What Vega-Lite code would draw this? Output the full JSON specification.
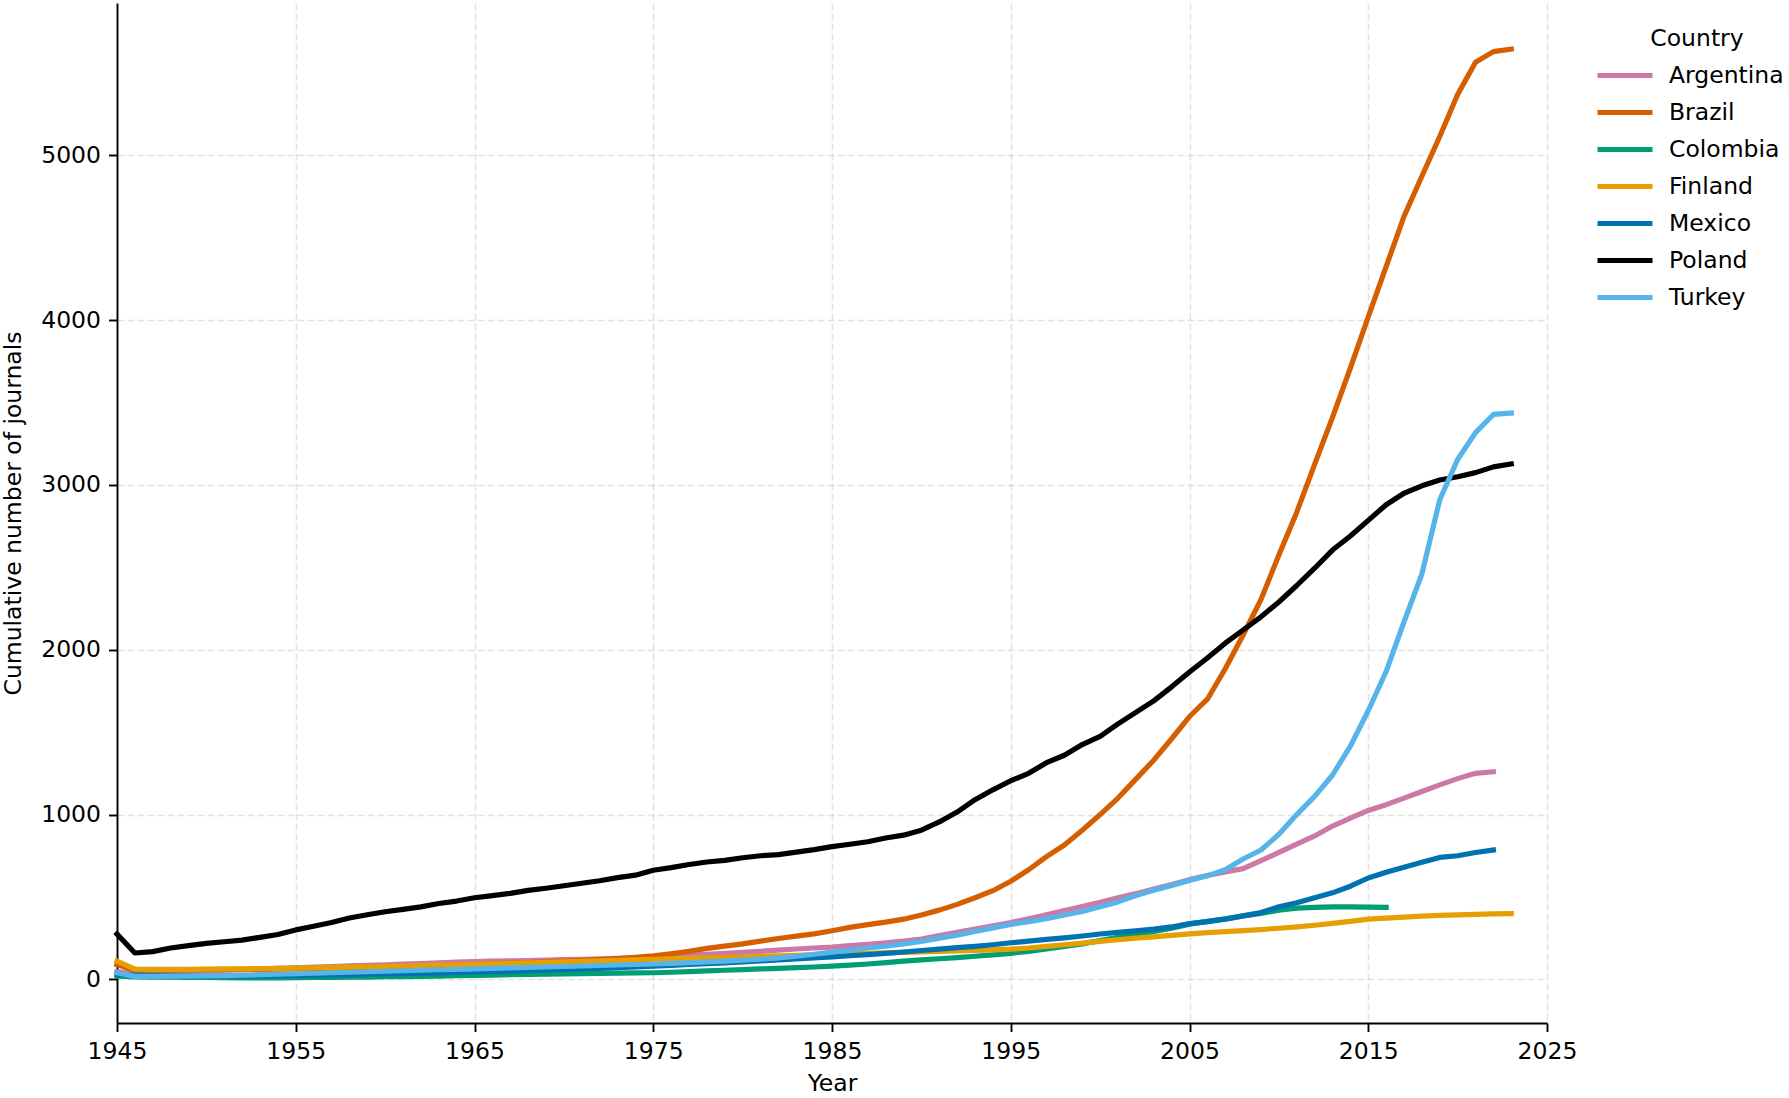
{
  "$schema": "https://vega.github.io/schema/vega-lite/v6.json",
  "width": 1430,
  "height": 1020,
  "autosize": {"type": "none"},
  "padding": {"left": 117, "top": 3, "right": 242, "bottom": 75},
  "background": "white",
  "config": {
    "view": {"stroke": null},
    "font": "DejaVu Sans",
    "axis": {
      "labelFont": "DejaVu Sans",
      "labelFontSize": 23.5,
      "labelColor": "black",
      "labelPadding": 8,
      "labelFlush": false,
      "titleFont": "DejaVu Sans",
      "titleFontSize": 23.5,
      "titleFontWeight": "normal",
      "titleColor": "black",
      "domainColor": "black",
      "domainWidth": 1.9,
      "tickColor": "black",
      "tickWidth": 1.9,
      "tickSize": 8.5,
      "grid": true,
      "gridColor": "#b0b0b0",
      "gridOpacity": 0.35,
      "gridWidth": 1.6,
      "gridDash": [7, 3]
    },
    "legend": {
      "labelFont": "DejaVu Sans",
      "labelFontSize": 23.5,
      "labelColor": "black",
      "titleFont": "DejaVu Sans",
      "titleFontSize": 23.5,
      "titleFontWeight": "normal",
      "titleColor": "black"
    }
  },
  "data": {
    "values": [
      {"Country":"Argentina","Year":1945,"Journals":45},{"Country":"Argentina","Year":1946,"Journals":40},{"Country":"Argentina","Year":1947,"Journals":42},{"Country":"Argentina","Year":1948,"Journals":45},{"Country":"Argentina","Year":1949,"Journals":48},
      {"Country":"Argentina","Year":1950,"Journals":52},{"Country":"Argentina","Year":1951,"Journals":55},{"Country":"Argentina","Year":1952,"Journals":58},{"Country":"Argentina","Year":1953,"Journals":62},{"Country":"Argentina","Year":1954,"Journals":66},
      {"Country":"Argentina","Year":1955,"Journals":70},{"Country":"Argentina","Year":1956,"Journals":74},{"Country":"Argentina","Year":1957,"Journals":78},{"Country":"Argentina","Year":1958,"Journals":82},{"Country":"Argentina","Year":1959,"Journals":85},
      {"Country":"Argentina","Year":1960,"Journals":88},{"Country":"Argentina","Year":1961,"Journals":92},{"Country":"Argentina","Year":1962,"Journals":96},{"Country":"Argentina","Year":1963,"Journals":100},{"Country":"Argentina","Year":1964,"Journals":104},
      {"Country":"Argentina","Year":1965,"Journals":108},{"Country":"Argentina","Year":1966,"Journals":110},{"Country":"Argentina","Year":1967,"Journals":112},{"Country":"Argentina","Year":1968,"Journals":114},{"Country":"Argentina","Year":1969,"Journals":117},
      {"Country":"Argentina","Year":1970,"Journals":120},{"Country":"Argentina","Year":1971,"Journals":122},{"Country":"Argentina","Year":1972,"Journals":125},{"Country":"Argentina","Year":1973,"Journals":128},{"Country":"Argentina","Year":1974,"Journals":131},
      {"Country":"Argentina","Year":1975,"Journals":134},{"Country":"Argentina","Year":1976,"Journals":140},{"Country":"Argentina","Year":1977,"Journals":146},{"Country":"Argentina","Year":1978,"Journals":152},{"Country":"Argentina","Year":1979,"Journals":158},
      {"Country":"Argentina","Year":1980,"Journals":164},{"Country":"Argentina","Year":1981,"Journals":170},{"Country":"Argentina","Year":1982,"Journals":177},{"Country":"Argentina","Year":1983,"Journals":184},{"Country":"Argentina","Year":1984,"Journals":190},
      {"Country":"Argentina","Year":1985,"Journals":196},{"Country":"Argentina","Year":1986,"Journals":205},{"Country":"Argentina","Year":1987,"Journals":213},{"Country":"Argentina","Year":1988,"Journals":222},{"Country":"Argentina","Year":1989,"Journals":232},
      {"Country":"Argentina","Year":1990,"Journals":245},{"Country":"Argentina","Year":1991,"Journals":265},{"Country":"Argentina","Year":1992,"Journals":285},{"Country":"Argentina","Year":1993,"Journals":305},{"Country":"Argentina","Year":1994,"Journals":325},
      {"Country":"Argentina","Year":1995,"Journals":345},{"Country":"Argentina","Year":1996,"Journals":368},{"Country":"Argentina","Year":1997,"Journals":392},{"Country":"Argentina","Year":1998,"Journals":418},{"Country":"Argentina","Year":1999,"Journals":442},
      {"Country":"Argentina","Year":2000,"Journals":468},{"Country":"Argentina","Year":2001,"Journals":495},{"Country":"Argentina","Year":2002,"Journals":520},{"Country":"Argentina","Year":2003,"Journals":548},{"Country":"Argentina","Year":2004,"Journals":575},
      {"Country":"Argentina","Year":2005,"Journals":605},{"Country":"Argentina","Year":2006,"Journals":630},{"Country":"Argentina","Year":2007,"Journals":652},{"Country":"Argentina","Year":2008,"Journals":672},{"Country":"Argentina","Year":2009,"Journals":720},
      {"Country":"Argentina","Year":2010,"Journals":770},{"Country":"Argentina","Year":2011,"Journals":820},{"Country":"Argentina","Year":2012,"Journals":870},{"Country":"Argentina","Year":2013,"Journals":930},{"Country":"Argentina","Year":2014,"Journals":978},
      {"Country":"Argentina","Year":2015,"Journals":1025},{"Country":"Argentina","Year":2016,"Journals":1060},{"Country":"Argentina","Year":2017,"Journals":1100},{"Country":"Argentina","Year":2018,"Journals":1140},{"Country":"Argentina","Year":2019,"Journals":1180},
      {"Country":"Argentina","Year":2020,"Journals":1218},{"Country":"Argentina","Year":2021,"Journals":1250},{"Country":"Argentina","Year":2022,"Journals":1260},

      {"Country":"Brazil","Year":1945,"Journals":90},{"Country":"Brazil","Year":1946,"Journals":55},{"Country":"Brazil","Year":1947,"Journals":55},{"Country":"Brazil","Year":1948,"Journals":56},{"Country":"Brazil","Year":1949,"Journals":57},
      {"Country":"Brazil","Year":1950,"Journals":58},{"Country":"Brazil","Year":1951,"Journals":59},{"Country":"Brazil","Year":1952,"Journals":60},{"Country":"Brazil","Year":1953,"Journals":61},{"Country":"Brazil","Year":1954,"Journals":62},
      {"Country":"Brazil","Year":1955,"Journals":64},{"Country":"Brazil","Year":1956,"Journals":66},{"Country":"Brazil","Year":1957,"Journals":68},{"Country":"Brazil","Year":1958,"Journals":70},{"Country":"Brazil","Year":1959,"Journals":72},
      {"Country":"Brazil","Year":1960,"Journals":75},{"Country":"Brazil","Year":1961,"Journals":78},{"Country":"Brazil","Year":1962,"Journals":81},{"Country":"Brazil","Year":1963,"Journals":84},{"Country":"Brazil","Year":1964,"Journals":87},
      {"Country":"Brazil","Year":1965,"Journals":90},{"Country":"Brazil","Year":1966,"Journals":94},{"Country":"Brazil","Year":1967,"Journals":98},{"Country":"Brazil","Year":1968,"Journals":102},{"Country":"Brazil","Year":1969,"Journals":106},
      {"Country":"Brazil","Year":1970,"Journals":110},{"Country":"Brazil","Year":1971,"Journals":115},{"Country":"Brazil","Year":1972,"Journals":120},{"Country":"Brazil","Year":1973,"Journals":126},{"Country":"Brazil","Year":1974,"Journals":133},
      {"Country":"Brazil","Year":1975,"Journals":142},{"Country":"Brazil","Year":1976,"Journals":155},{"Country":"Brazil","Year":1977,"Journals":170},{"Country":"Brazil","Year":1978,"Journals":188},{"Country":"Brazil","Year":1979,"Journals":202},
      {"Country":"Brazil","Year":1980,"Journals":215},{"Country":"Brazil","Year":1981,"Journals":232},{"Country":"Brazil","Year":1982,"Journals":248},{"Country":"Brazil","Year":1983,"Journals":262},{"Country":"Brazil","Year":1984,"Journals":276},
      {"Country":"Brazil","Year":1985,"Journals":295},{"Country":"Brazil","Year":1986,"Journals":315},{"Country":"Brazil","Year":1987,"Journals":332},{"Country":"Brazil","Year":1988,"Journals":347},{"Country":"Brazil","Year":1989,"Journals":365},
      {"Country":"Brazil","Year":1990,"Journals":390},{"Country":"Brazil","Year":1991,"Journals":420},{"Country":"Brazil","Year":1992,"Journals":455},{"Country":"Brazil","Year":1993,"Journals":495},{"Country":"Brazil","Year":1994,"Journals":538},
      {"Country":"Brazil","Year":1995,"Journals":595},{"Country":"Brazil","Year":1996,"Journals":665},{"Country":"Brazil","Year":1997,"Journals":745},{"Country":"Brazil","Year":1998,"Journals":815},{"Country":"Brazil","Year":1999,"Journals":905},
      {"Country":"Brazil","Year":2000,"Journals":1000},{"Country":"Brazil","Year":2001,"Journals":1100},{"Country":"Brazil","Year":2002,"Journals":1215},{"Country":"Brazil","Year":2003,"Journals":1330},{"Country":"Brazil","Year":2004,"Journals":1460},
      {"Country":"Brazil","Year":2005,"Journals":1595},{"Country":"Brazil","Year":2006,"Journals":1700},{"Country":"Brazil","Year":2007,"Journals":1885},{"Country":"Brazil","Year":2008,"Journals":2090},{"Country":"Brazil","Year":2009,"Journals":2305},
      {"Country":"Brazil","Year":2010,"Journals":2575},{"Country":"Brazil","Year":2011,"Journals":2835},{"Country":"Brazil","Year":2012,"Journals":3125},{"Country":"Brazil","Year":2013,"Journals":3410},{"Country":"Brazil","Year":2014,"Journals":3710},
      {"Country":"Brazil","Year":2015,"Journals":4020},{"Country":"Brazil","Year":2016,"Journals":4325},{"Country":"Brazil","Year":2017,"Journals":4630},{"Country":"Brazil","Year":2018,"Journals":4874},{"Country":"Brazil","Year":2019,"Journals":5115},
      {"Country":"Brazil","Year":2020,"Journals":5370},{"Country":"Brazil","Year":2021,"Journals":5565},{"Country":"Brazil","Year":2022,"Journals":5630},{"Country":"Brazil","Year":2023,"Journals":5645},

      {"Country":"Colombia","Year":1945,"Journals":20},{"Country":"Colombia","Year":1946,"Journals":15},{"Country":"Colombia","Year":1947,"Journals":14},{"Country":"Colombia","Year":1948,"Journals":13},{"Country":"Colombia","Year":1949,"Journals":12},
      {"Country":"Colombia","Year":1950,"Journals":11},{"Country":"Colombia","Year":1951,"Journals":10},{"Country":"Colombia","Year":1952,"Journals":9},{"Country":"Colombia","Year":1953,"Journals":9},{"Country":"Colombia","Year":1954,"Journals":9},
      {"Country":"Colombia","Year":1955,"Journals":10},{"Country":"Colombia","Year":1956,"Journals":11},{"Country":"Colombia","Year":1957,"Journals":12},{"Country":"Colombia","Year":1958,"Journals":13},{"Country":"Colombia","Year":1959,"Journals":14},
      {"Country":"Colombia","Year":1960,"Journals":16},{"Country":"Colombia","Year":1961,"Journals":17},{"Country":"Colombia","Year":1962,"Journals":18},{"Country":"Colombia","Year":1963,"Journals":20},{"Country":"Colombia","Year":1964,"Journals":22},
      {"Country":"Colombia","Year":1965,"Journals":24},{"Country":"Colombia","Year":1966,"Journals":26},{"Country":"Colombia","Year":1967,"Journals":28},{"Country":"Colombia","Year":1968,"Journals":30},{"Country":"Colombia","Year":1969,"Journals":31},
      {"Country":"Colombia","Year":1970,"Journals":33},{"Country":"Colombia","Year":1971,"Journals":35},{"Country":"Colombia","Year":1972,"Journals":36},{"Country":"Colombia","Year":1973,"Journals":38},{"Country":"Colombia","Year":1974,"Journals":39},
      {"Country":"Colombia","Year":1975,"Journals":40},{"Country":"Colombia","Year":1976,"Journals":43},{"Country":"Colombia","Year":1977,"Journals":47},{"Country":"Colombia","Year":1978,"Journals":51},{"Country":"Colombia","Year":1979,"Journals":55},
      {"Country":"Colombia","Year":1980,"Journals":59},{"Country":"Colombia","Year":1981,"Journals":63},{"Country":"Colombia","Year":1982,"Journals":67},{"Country":"Colombia","Year":1983,"Journals":71},{"Country":"Colombia","Year":1984,"Journals":75},
      {"Country":"Colombia","Year":1985,"Journals":80},{"Country":"Colombia","Year":1986,"Journals":86},{"Country":"Colombia","Year":1987,"Journals":93},{"Country":"Colombia","Year":1988,"Journals":101},{"Country":"Colombia","Year":1989,"Journals":110},
      {"Country":"Colombia","Year":1990,"Journals":118},{"Country":"Colombia","Year":1991,"Journals":125},{"Country":"Colombia","Year":1992,"Journals":132},{"Country":"Colombia","Year":1993,"Journals":140},{"Country":"Colombia","Year":1994,"Journals":148},
      {"Country":"Colombia","Year":1995,"Journals":158},{"Country":"Colombia","Year":1996,"Journals":170},{"Country":"Colombia","Year":1997,"Journals":185},{"Country":"Colombia","Year":1998,"Journals":200},{"Country":"Colombia","Year":1999,"Journals":215},
      {"Country":"Colombia","Year":2000,"Journals":235},{"Country":"Colombia","Year":2001,"Journals":255},{"Country":"Colombia","Year":2002,"Journals":270},{"Country":"Colombia","Year":2003,"Journals":290},{"Country":"Colombia","Year":2004,"Journals":310},
      {"Country":"Colombia","Year":2005,"Journals":335},{"Country":"Colombia","Year":2006,"Journals":352},{"Country":"Colombia","Year":2007,"Journals":367},{"Country":"Colombia","Year":2008,"Journals":385},{"Country":"Colombia","Year":2009,"Journals":400},
      {"Country":"Colombia","Year":2010,"Journals":420},{"Country":"Colombia","Year":2011,"Journals":432},{"Country":"Colombia","Year":2012,"Journals":437},{"Country":"Colombia","Year":2013,"Journals":440},{"Country":"Colombia","Year":2014,"Journals":440},
      {"Country":"Colombia","Year":2015,"Journals":438},{"Country":"Colombia","Year":2016,"Journals":437},

      {"Country":"Finland","Year":1945,"Journals":110},{"Country":"Finland","Year":1946,"Journals":62},{"Country":"Finland","Year":1947,"Journals":60},{"Country":"Finland","Year":1948,"Journals":60},{"Country":"Finland","Year":1949,"Journals":61},
      {"Country":"Finland","Year":1950,"Journals":62},{"Country":"Finland","Year":1951,"Journals":63},{"Country":"Finland","Year":1952,"Journals":64},{"Country":"Finland","Year":1953,"Journals":65},{"Country":"Finland","Year":1954,"Journals":66},
      {"Country":"Finland","Year":1955,"Journals":68},{"Country":"Finland","Year":1956,"Journals":70},{"Country":"Finland","Year":1957,"Journals":72},{"Country":"Finland","Year":1958,"Journals":74},{"Country":"Finland","Year":1959,"Journals":76},
      {"Country":"Finland","Year":1960,"Journals":78},{"Country":"Finland","Year":1961,"Journals":80},{"Country":"Finland","Year":1962,"Journals":83},{"Country":"Finland","Year":1963,"Journals":86},{"Country":"Finland","Year":1964,"Journals":88},
      {"Country":"Finland","Year":1965,"Journals":91},{"Country":"Finland","Year":1966,"Journals":94},{"Country":"Finland","Year":1967,"Journals":97},{"Country":"Finland","Year":1968,"Journals":100},{"Country":"Finland","Year":1969,"Journals":103},
      {"Country":"Finland","Year":1970,"Journals":106},{"Country":"Finland","Year":1971,"Journals":109},{"Country":"Finland","Year":1972,"Journals":112},{"Country":"Finland","Year":1973,"Journals":115},{"Country":"Finland","Year":1974,"Journals":118},
      {"Country":"Finland","Year":1975,"Journals":122},{"Country":"Finland","Year":1976,"Journals":125},{"Country":"Finland","Year":1977,"Journals":128},{"Country":"Finland","Year":1978,"Journals":131},{"Country":"Finland","Year":1979,"Journals":134},
      {"Country":"Finland","Year":1980,"Journals":137},{"Country":"Finland","Year":1981,"Journals":140},{"Country":"Finland","Year":1982,"Journals":143},{"Country":"Finland","Year":1983,"Journals":146},{"Country":"Finland","Year":1984,"Journals":149},
      {"Country":"Finland","Year":1985,"Journals":152},{"Country":"Finland","Year":1986,"Journals":155},{"Country":"Finland","Year":1987,"Journals":158},{"Country":"Finland","Year":1988,"Journals":161},{"Country":"Finland","Year":1989,"Journals":164},
      {"Country":"Finland","Year":1990,"Journals":167},{"Country":"Finland","Year":1991,"Journals":170},{"Country":"Finland","Year":1992,"Journals":173},{"Country":"Finland","Year":1993,"Journals":176},{"Country":"Finland","Year":1994,"Journals":179},
      {"Country":"Finland","Year":1995,"Journals":183},{"Country":"Finland","Year":1996,"Journals":190},{"Country":"Finland","Year":1997,"Journals":200},{"Country":"Finland","Year":1998,"Journals":210},{"Country":"Finland","Year":1999,"Journals":220},
      {"Country":"Finland","Year":2000,"Journals":230},{"Country":"Finland","Year":2001,"Journals":240},{"Country":"Finland","Year":2002,"Journals":250},{"Country":"Finland","Year":2003,"Journals":258},{"Country":"Finland","Year":2004,"Journals":267},
      {"Country":"Finland","Year":2005,"Journals":276},{"Country":"Finland","Year":2006,"Journals":283},{"Country":"Finland","Year":2007,"Journals":290},{"Country":"Finland","Year":2008,"Journals":296},{"Country":"Finland","Year":2009,"Journals":302},
      {"Country":"Finland","Year":2010,"Journals":310},{"Country":"Finland","Year":2011,"Journals":318},{"Country":"Finland","Year":2012,"Journals":328},{"Country":"Finland","Year":2013,"Journals":340},{"Country":"Finland","Year":2014,"Journals":352},
      {"Country":"Finland","Year":2015,"Journals":365},{"Country":"Finland","Year":2016,"Journals":372},{"Country":"Finland","Year":2017,"Journals":378},{"Country":"Finland","Year":2018,"Journals":384},{"Country":"Finland","Year":2019,"Journals":388},
      {"Country":"Finland","Year":2020,"Journals":391},{"Country":"Finland","Year":2021,"Journals":394},{"Country":"Finland","Year":2022,"Journals":397},{"Country":"Finland","Year":2023,"Journals":399},

      {"Country":"Mexico","Year":1945,"Journals":30},{"Country":"Mexico","Year":1946,"Journals":25},{"Country":"Mexico","Year":1947,"Journals":22},{"Country":"Mexico","Year":1948,"Journals":21},{"Country":"Mexico","Year":1949,"Journals":20},
      {"Country":"Mexico","Year":1950,"Journals":20},{"Country":"Mexico","Year":1951,"Journals":20},{"Country":"Mexico","Year":1952,"Journals":20},{"Country":"Mexico","Year":1953,"Journals":21},{"Country":"Mexico","Year":1954,"Journals":22},
      {"Country":"Mexico","Year":1955,"Journals":23},{"Country":"Mexico","Year":1956,"Journals":25},{"Country":"Mexico","Year":1957,"Journals":27},{"Country":"Mexico","Year":1958,"Journals":29},{"Country":"Mexico","Year":1959,"Journals":31},
      {"Country":"Mexico","Year":1960,"Journals":33},{"Country":"Mexico","Year":1961,"Journals":35},{"Country":"Mexico","Year":1962,"Journals":37},{"Country":"Mexico","Year":1963,"Journals":39},{"Country":"Mexico","Year":1964,"Journals":41},
      {"Country":"Mexico","Year":1965,"Journals":44},{"Country":"Mexico","Year":1966,"Journals":47},{"Country":"Mexico","Year":1967,"Journals":50},{"Country":"Mexico","Year":1968,"Journals":53},{"Country":"Mexico","Year":1969,"Journals":56},
      {"Country":"Mexico","Year":1970,"Journals":60},{"Country":"Mexico","Year":1971,"Journals":63},{"Country":"Mexico","Year":1972,"Journals":67},{"Country":"Mexico","Year":1973,"Journals":71},{"Country":"Mexico","Year":1974,"Journals":75},
      {"Country":"Mexico","Year":1975,"Journals":80},{"Country":"Mexico","Year":1976,"Journals":85},{"Country":"Mexico","Year":1977,"Journals":90},{"Country":"Mexico","Year":1978,"Journals":95},{"Country":"Mexico","Year":1979,"Journals":100},
      {"Country":"Mexico","Year":1980,"Journals":106},{"Country":"Mexico","Year":1981,"Journals":112},{"Country":"Mexico","Year":1982,"Journals":118},{"Country":"Mexico","Year":1983,"Journals":124},{"Country":"Mexico","Year":1984,"Journals":130},
      {"Country":"Mexico","Year":1985,"Journals":136},{"Country":"Mexico","Year":1986,"Journals":143},{"Country":"Mexico","Year":1987,"Journals":150},{"Country":"Mexico","Year":1988,"Journals":158},{"Country":"Mexico","Year":1989,"Journals":166},
      {"Country":"Mexico","Year":1990,"Journals":175},{"Country":"Mexico","Year":1991,"Journals":183},{"Country":"Mexico","Year":1992,"Journals":192},{"Country":"Mexico","Year":1993,"Journals":200},{"Country":"Mexico","Year":1994,"Journals":210},
      {"Country":"Mexico","Year":1995,"Journals":222},{"Country":"Mexico","Year":1996,"Journals":232},{"Country":"Mexico","Year":1997,"Journals":242},{"Country":"Mexico","Year":1998,"Journals":252},{"Country":"Mexico","Year":1999,"Journals":263},
      {"Country":"Mexico","Year":2000,"Journals":275},{"Country":"Mexico","Year":2001,"Journals":285},{"Country":"Mexico","Year":2002,"Journals":295},{"Country":"Mexico","Year":2003,"Journals":305},{"Country":"Mexico","Year":2004,"Journals":318},
      {"Country":"Mexico","Year":2005,"Journals":338},{"Country":"Mexico","Year":2006,"Journals":350},{"Country":"Mexico","Year":2007,"Journals":365},{"Country":"Mexico","Year":2008,"Journals":385},{"Country":"Mexico","Year":2009,"Journals":405},
      {"Country":"Mexico","Year":2010,"Journals":440},{"Country":"Mexico","Year":2011,"Journals":465},{"Country":"Mexico","Year":2012,"Journals":495},{"Country":"Mexico","Year":2013,"Journals":525},{"Country":"Mexico","Year":2014,"Journals":565},
      {"Country":"Mexico","Year":2015,"Journals":615},{"Country":"Mexico","Year":2016,"Journals":650},{"Country":"Mexico","Year":2017,"Journals":680},{"Country":"Mexico","Year":2018,"Journals":710},{"Country":"Mexico","Year":2019,"Journals":740},
      {"Country":"Mexico","Year":2020,"Journals":750},{"Country":"Mexico","Year":2021,"Journals":770},{"Country":"Mexico","Year":2022,"Journals":785},

      {"Country":"Poland","Year":1945,"Journals":275},{"Country":"Poland","Year":1946,"Journals":160},{"Country":"Poland","Year":1947,"Journals":168},{"Country":"Poland","Year":1948,"Journals":190},{"Country":"Poland","Year":1949,"Journals":205},
      {"Country":"Poland","Year":1950,"Journals":218},{"Country":"Poland","Year":1951,"Journals":228},{"Country":"Poland","Year":1952,"Journals":238},{"Country":"Poland","Year":1953,"Journals":255},{"Country":"Poland","Year":1954,"Journals":272},
      {"Country":"Poland","Year":1955,"Journals":300},{"Country":"Poland","Year":1956,"Journals":322},{"Country":"Poland","Year":1957,"Journals":345},{"Country":"Poland","Year":1958,"Journals":372},{"Country":"Poland","Year":1959,"Journals":392},
      {"Country":"Poland","Year":1960,"Journals":410},{"Country":"Poland","Year":1961,"Journals":425},{"Country":"Poland","Year":1962,"Journals":440},{"Country":"Poland","Year":1963,"Journals":460},{"Country":"Poland","Year":1964,"Journals":475},
      {"Country":"Poland","Year":1965,"Journals":495},{"Country":"Poland","Year":1966,"Journals":508},{"Country":"Poland","Year":1967,"Journals":522},{"Country":"Poland","Year":1968,"Journals":540},{"Country":"Poland","Year":1969,"Journals":553},
      {"Country":"Poland","Year":1970,"Journals":568},{"Country":"Poland","Year":1971,"Journals":583},{"Country":"Poland","Year":1972,"Journals":598},{"Country":"Poland","Year":1973,"Journals":617},{"Country":"Poland","Year":1974,"Journals":632},
      {"Country":"Poland","Year":1975,"Journals":662},{"Country":"Poland","Year":1976,"Journals":678},{"Country":"Poland","Year":1977,"Journals":697},{"Country":"Poland","Year":1978,"Journals":712},{"Country":"Poland","Year":1979,"Journals":722},
      {"Country":"Poland","Year":1980,"Journals":738},{"Country":"Poland","Year":1981,"Journals":750},{"Country":"Poland","Year":1982,"Journals":757},{"Country":"Poland","Year":1983,"Journals":772},{"Country":"Poland","Year":1984,"Journals":787},
      {"Country":"Poland","Year":1985,"Journals":805},{"Country":"Poland","Year":1986,"Journals":820},{"Country":"Poland","Year":1987,"Journals":835},{"Country":"Poland","Year":1988,"Journals":858},{"Country":"Poland","Year":1989,"Journals":875},
      {"Country":"Poland","Year":1990,"Journals":905},{"Country":"Poland","Year":1991,"Journals":955},{"Country":"Poland","Year":1992,"Journals":1015},{"Country":"Poland","Year":1993,"Journals":1090},{"Country":"Poland","Year":1994,"Journals":1150},
      {"Country":"Poland","Year":1995,"Journals":1205},{"Country":"Poland","Year":1996,"Journals":1250},{"Country":"Poland","Year":1997,"Journals":1315},{"Country":"Poland","Year":1998,"Journals":1360},{"Country":"Poland","Year":1999,"Journals":1425},
      {"Country":"Poland","Year":2000,"Journals":1475},{"Country":"Poland","Year":2001,"Journals":1550},{"Country":"Poland","Year":2002,"Journals":1620},{"Country":"Poland","Year":2003,"Journals":1690},{"Country":"Poland","Year":2004,"Journals":1775},
      {"Country":"Poland","Year":2005,"Journals":1865},{"Country":"Poland","Year":2006,"Journals":1950},{"Country":"Poland","Year":2007,"Journals":2040},{"Country":"Poland","Year":2008,"Journals":2120},{"Country":"Poland","Year":2009,"Journals":2200},
      {"Country":"Poland","Year":2010,"Journals":2290},{"Country":"Poland","Year":2011,"Journals":2390},{"Country":"Poland","Year":2012,"Journals":2495},{"Country":"Poland","Year":2013,"Journals":2605},{"Country":"Poland","Year":2014,"Journals":2690},
      {"Country":"Poland","Year":2015,"Journals":2785},{"Country":"Poland","Year":2016,"Journals":2880},{"Country":"Poland","Year":2017,"Journals":2950},{"Country":"Poland","Year":2018,"Journals":2995},{"Country":"Poland","Year":2019,"Journals":3030},
      {"Country":"Poland","Year":2020,"Journals":3050},{"Country":"Poland","Year":2021,"Journals":3075},{"Country":"Poland","Year":2022,"Journals":3110},{"Country":"Poland","Year":2023,"Journals":3128},

      {"Country":"Turkey","Year":1945,"Journals":40},{"Country":"Turkey","Year":1946,"Journals":18},{"Country":"Turkey","Year":1947,"Journals":18},{"Country":"Turkey","Year":1948,"Journals":19},{"Country":"Turkey","Year":1949,"Journals":20},
      {"Country":"Turkey","Year":1950,"Journals":21},{"Country":"Turkey","Year":1951,"Journals":23},{"Country":"Turkey","Year":1952,"Journals":25},{"Country":"Turkey","Year":1953,"Journals":28},{"Country":"Turkey","Year":1954,"Journals":31},
      {"Country":"Turkey","Year":1955,"Journals":34},{"Country":"Turkey","Year":1956,"Journals":37},{"Country":"Turkey","Year":1957,"Journals":40},{"Country":"Turkey","Year":1958,"Journals":43},{"Country":"Turkey","Year":1959,"Journals":46},
      {"Country":"Turkey","Year":1960,"Journals":49},{"Country":"Turkey","Year":1961,"Journals":52},{"Country":"Turkey","Year":1962,"Journals":55},{"Country":"Turkey","Year":1963,"Journals":58},{"Country":"Turkey","Year":1964,"Journals":61},
      {"Country":"Turkey","Year":1965,"Journals":64},{"Country":"Turkey","Year":1966,"Journals":67},{"Country":"Turkey","Year":1967,"Journals":70},{"Country":"Turkey","Year":1968,"Journals":72},{"Country":"Turkey","Year":1969,"Journals":75},
      {"Country":"Turkey","Year":1970,"Journals":78},{"Country":"Turkey","Year":1971,"Journals":81},{"Country":"Turkey","Year":1972,"Journals":84},{"Country":"Turkey","Year":1973,"Journals":87},{"Country":"Turkey","Year":1974,"Journals":90},
      {"Country":"Turkey","Year":1975,"Journals":93},{"Country":"Turkey","Year":1976,"Journals":97},{"Country":"Turkey","Year":1977,"Journals":101},{"Country":"Turkey","Year":1978,"Journals":106},{"Country":"Turkey","Year":1979,"Journals":111},
      {"Country":"Turkey","Year":1980,"Journals":116},{"Country":"Turkey","Year":1981,"Journals":122},{"Country":"Turkey","Year":1982,"Journals":130},{"Country":"Turkey","Year":1983,"Journals":140},{"Country":"Turkey","Year":1984,"Journals":152},
      {"Country":"Turkey","Year":1985,"Journals":165},{"Country":"Turkey","Year":1986,"Journals":177},{"Country":"Turkey","Year":1987,"Journals":190},{"Country":"Turkey","Year":1988,"Journals":202},{"Country":"Turkey","Year":1989,"Journals":215},
      {"Country":"Turkey","Year":1990,"Journals":230},{"Country":"Turkey","Year":1991,"Journals":250},{"Country":"Turkey","Year":1992,"Journals":268},{"Country":"Turkey","Year":1993,"Journals":290},{"Country":"Turkey","Year":1994,"Journals":312},
      {"Country":"Turkey","Year":1995,"Journals":333},{"Country":"Turkey","Year":1996,"Journals":350},{"Country":"Turkey","Year":1997,"Journals":368},{"Country":"Turkey","Year":1998,"Journals":390},{"Country":"Turkey","Year":1999,"Journals":412},
      {"Country":"Turkey","Year":2000,"Journals":440},{"Country":"Turkey","Year":2001,"Journals":470},{"Country":"Turkey","Year":2002,"Journals":508},{"Country":"Turkey","Year":2003,"Journals":540},{"Country":"Turkey","Year":2004,"Journals":570},
      {"Country":"Turkey","Year":2005,"Journals":600},{"Country":"Turkey","Year":2006,"Journals":628},{"Country":"Turkey","Year":2007,"Journals":665},{"Country":"Turkey","Year":2008,"Journals":730},{"Country":"Turkey","Year":2009,"Journals":785},
      {"Country":"Turkey","Year":2010,"Journals":880},{"Country":"Turkey","Year":2011,"Journals":1000},{"Country":"Turkey","Year":2012,"Journals":1110},{"Country":"Turkey","Year":2013,"Journals":1240},{"Country":"Turkey","Year":2014,"Journals":1415},
      {"Country":"Turkey","Year":2015,"Journals":1630},{"Country":"Turkey","Year":2016,"Journals":1868},{"Country":"Turkey","Year":2017,"Journals":2170},{"Country":"Turkey","Year":2018,"Journals":2460},{"Country":"Turkey","Year":2019,"Journals":2910},
      {"Country":"Turkey","Year":2020,"Journals":3155},{"Country":"Turkey","Year":2021,"Journals":3318},{"Country":"Turkey","Year":2022,"Journals":3428},{"Country":"Turkey","Year":2023,"Journals":3436}
    ]
  },
  "mark": {"type": "line", "strokeWidth": 5.2, "strokeCap": "square", "strokeJoin": "round"},
  "encoding": {
    "x": {
      "field": "Year",
      "type": "quantitative",
      "scale": {"domain": [1945, 2025], "nice": false, "zero": false},
      "axis": {"values": [1945, 1955, 1965, 1975, 1985, 1995, 2005, 2015, 2025], "format": "d", "title": "Year", "titlePadding": 8}
    },
    "y": {
      "field": "Journals",
      "type": "quantitative",
      "scale": {"domain": [-265, 5925], "nice": false, "zero": false},
      "axis": {"values": [0, 1000, 2000, 3000, 4000, 5000], "format": "d", "title": "Cumulative number of journals", "titlePadding": 15}
    },
    "color": {
      "field": "Country",
      "type": "nominal",
      "scale": {
        "domain": ["Argentina", "Brazil", "Colombia", "Finland", "Mexico", "Poland", "Turkey"],
        "range": ["#CC79A7", "#D55E00", "#009E73", "#E69F00", "#0072B2", "#000000", "#56B4E9"]
      },
      "legend": {
        "title": "Country",
        "orient": "none",
        "legendX": 1494,
        "legendY": 24,
        "titleAnchor": "middle",
        "titlePadding": 11,
        "padding": 0,
        "symbolType": "M-2.5,0H2.5",
        "symbolSize": 484,
        "symbolStrokeWidth": 5.2,
        "labelOffset": 30,
        "rowPadding": 11
      }
    }
  }
}
